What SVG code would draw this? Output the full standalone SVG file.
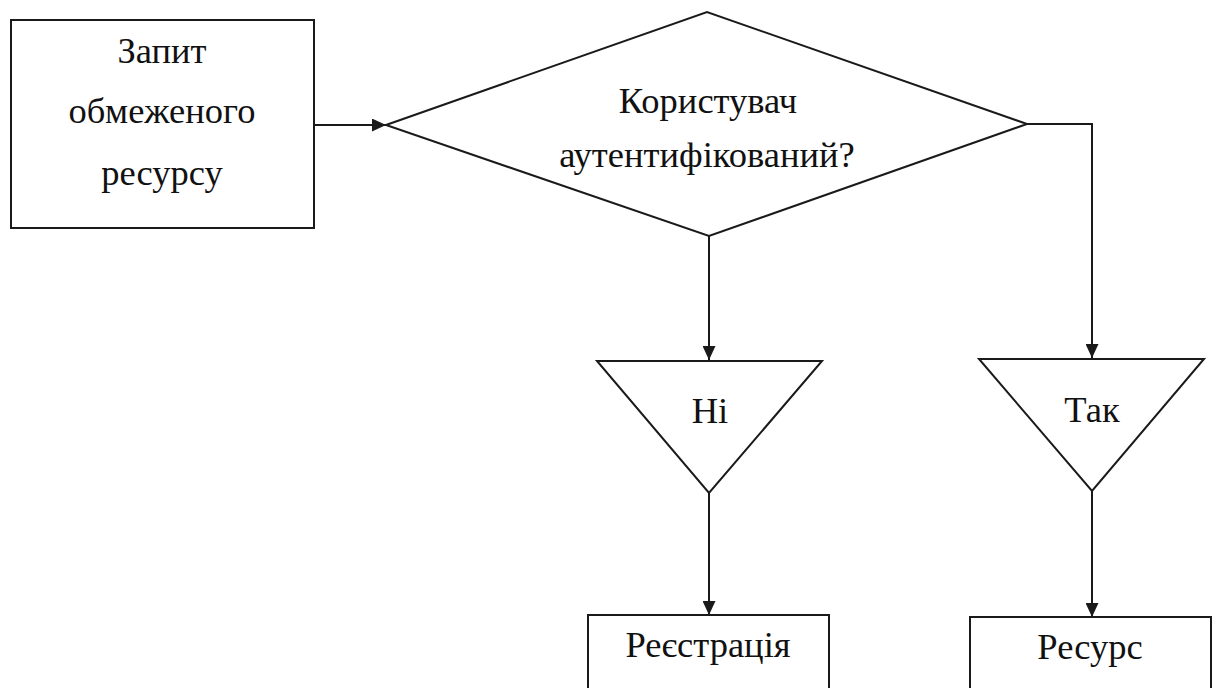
<svg xmlns="http://www.w3.org/2000/svg" width="1220" height="688" viewBox="0 0 1220 688">
<style>
.s{fill:#fff;stroke:#1a1a1a;stroke-width:2}
.c{fill:none;stroke:#1a1a1a;stroke-width:2}
.t{font-family:"Liberation Serif","DejaVu Serif",serif;font-size:36.5px;fill:#111;text-anchor:middle}
</style>
<defs>
<marker id="a" markerWidth="14" markerHeight="13" refX="14" refY="6.5" orient="auto" markerUnits="userSpaceOnUse">
<path d="M0,0 L14,6.5 L0,13 Z" fill="#1a1a1a"/>
</marker>
</defs>
<rect width="1220" height="688" fill="#fff"/>
<g id="connectors">
<line class="c" x1="314" y1="125" x2="386" y2="125" marker-end="url(#a)"/>
<line class="c" x1="709" y1="236" x2="709" y2="360" marker-end="url(#a)"/>
<polyline class="c" points="1027,124 1092,124 1092,358" marker-end="url(#a)"/>
<line class="c" x1="709" y1="493" x2="709" y2="615" marker-end="url(#a)"/>
<line class="c" x1="1092" y1="491" x2="1092" y2="617" marker-end="url(#a)"/>
</g>
<g id="request">
<rect class="s" x="11" y="20" width="303" height="208"/>
<text class="t" x="162" y="63">Запит</text>
<text class="t" x="162" y="123">обмеженого</text>
<text class="t" x="162" y="185">ресурсу</text>
</g>
<g id="decision">
<polygon class="s" points="386,125 707,12 1027,124 709,236"/>
<text class="t" x="708" y="113">Користувач</text>
<text class="t" x="707" y="167">аутентифікований?</text>
</g>
<g id="no">
<polygon class="s" points="597,361 822,361 709,493"/>
<text class="t" x="710" y="423">Ні</text>
</g>
<g id="yes">
<polygon class="s" points="979,359 1204,359 1092,491"/>
<text class="t" x="1092" y="422">Так</text>
</g>
<g id="registration">
<rect class="s" x="588" y="615" width="241" height="80"/>
<text class="t" x="708" y="657">Реєстрація</text>
</g>
<g id="resource">
<rect class="s" x="970" y="617" width="241" height="80"/>
<text class="t" x="1090" y="659">Ресурс</text>
</g>
</svg>
